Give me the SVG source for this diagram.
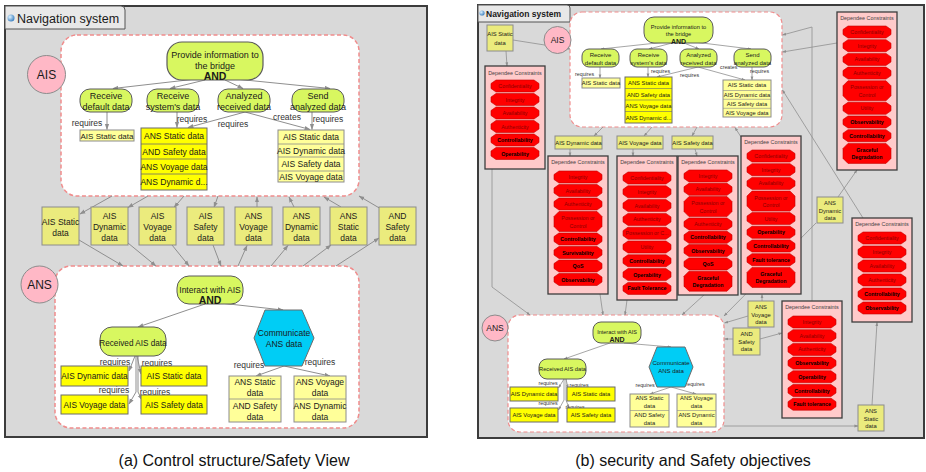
<svg xmlns="http://www.w3.org/2000/svg" width="926" height="472" viewBox="0 0 926 472">
<defs>
<style>
text{font-family:"Liberation Sans",Arial,sans-serif;fill:#1a1a1a}
.c{text-anchor:middle}
.b{font-weight:bold}
.panel{fill:#d9d9d9;stroke:#3c3c3c;stroke-width:2}
.tab{fill:#e8e8e8;stroke:#555;stroke-width:1}
.cont{fill:#fff;stroke:#f08c8c;stroke-width:1.5;stroke-dasharray:4 2.5}
.circ{fill:#ffb8c6;stroke:#8c8c8c}
.goal{fill:#d8f760;stroke:#5a5a5a}
.d1{fill:#ffff99;stroke:#8c8c8c}
.d2{fill:#ffff00;stroke:#6b6b6b}
.d3{fill:#ebeb7d;stroke:#8c8c8c}
.hex{fill:#00cdf5;stroke:#6b6b6b}
.dc{fill:#ffcaca;stroke:#3c3c3c;stroke-width:1.3}
.ln{fill:none;stroke:#8f8f8f;stroke-width:1;marker-end:url(#ah)}
.ls{fill:none;stroke:#8f8f8f;stroke-width:0.8;marker-end:url(#as)}
.f9{font-size:9px}
.f85{font-size:8.5px}
.f6{font-size:6px}
.f58{font-size:5.8px}
.lb{font-size:8.5px;text-anchor:middle;fill:#333}
.ls5{font-size:5.3px;fill:#333}
.dt{font-size:5.4px;fill:#444;text-anchor:middle}
.o{font-size:5.3px;fill:#8a0000;text-anchor:middle}
.ob{font-size:5.3px;font-weight:bold;fill:#000;text-anchor:middle}
.cap{font-size:16px;text-anchor:middle;fill:#111}
</style>
<marker id="ah" viewBox="0 0 10 10" refX="9" refY="5" markerWidth="6" markerHeight="6" orient="auto"><path d="M0,1.5L10,5L0,8.5z" fill="#8f8f8f"/></marker>
<marker id="as" viewBox="0 0 10 10" refX="9" refY="5" markerWidth="5" markerHeight="5" orient="auto"><path d="M0,1.5L10,5L0,8.5z" fill="#8f8f8f"/></marker>
<path id="o" d="M5,0h38l5,3.5v5l-5,3.5h-38l-5,-3.5v-5z" fill="#ff0000" stroke="#c40000" stroke-width="0.6"/>
<path id="O" d="M5,0h38l5,5v10l-5,5h-38l-5,-5v-10z" fill="#ff0000" stroke="#c40000" stroke-width="0.6"/>
<radialGradient id="gl" cx="0.35" cy="0.35" r="0.7"><stop offset="0" stop-color="#dff3ff"/><stop offset="1" stop-color="#3a7fc0"/></radialGradient>
</defs>

<!-- ============ PANEL A ============ -->
<g id="panelA">
<rect class="panel" x="5" y="6" width="422" height="431"/>
<path class="tab" d="M5,6H121a4,4 0 0 1 4,4V29H5Z"/>
<circle cx="11" cy="18" r="3.5" fill="url(#gl)"/>
<text x="17" y="23" style="font-size:12.5px">Navigation system</text>
</g>
<g id="a-AIS-container"><rect class="cont" x="61" y="35" width="298" height="161" rx="16"/></g>
<g id="a-ANS-container"><rect class="cont" x="55" y="266" width="304" height="162" rx="16"/></g>

<g id="a-connectors">
<line class="ln" x1="196" y1="79" x2="113" y2="88.5"/>
<line class="ln" x1="205" y1="80" x2="170" y2="88.5"/>
<line class="ln" x1="225" y1="80" x2="243" y2="88.5"/>
<line class="ln" x1="235" y1="79" x2="330" y2="88.5"/>
<line class="ln" x1="107" y1="112" x2="107" y2="129.5"/>
<line class="ln" x1="177" y1="112" x2="177" y2="127.5"/>
<line class="ln" x1="245" y1="112" x2="188" y2="127.5"/>
<line class="ln" x1="245" y1="112" x2="310" y2="129.5"/>
<line class="ln" x1="312" y1="112" x2="312" y2="129.5"/>
<line class="ln" x1="112" y1="196" x2="80" y2="214"/>
<line class="ln" x1="148" y1="196" x2="128" y2="207.5"/>
<line class="ln" x1="184" y1="196" x2="174" y2="207.5"/>
<line class="ln" x1="218" y1="196" x2="214" y2="207.5"/>
<line class="ln" x1="257" y1="207" x2="257" y2="197"/>
<line class="ln" x1="294" y1="207" x2="289" y2="197"/>
<line class="ln" x1="341" y1="207" x2="324" y2="197"/>
<line class="ln" x1="381" y1="209" x2="359" y2="196"/>
<line class="ln" x1="79" y1="240" x2="123" y2="266"/>
<line class="ln" x1="128" y1="243" x2="156" y2="266"/>
<line class="ln" x1="172" y1="245" x2="189" y2="266"/>
<line class="ln" x1="213" y1="245" x2="221" y2="266"/>
<line class="ln" x1="238" y1="266" x2="247" y2="245.5"/>
<line class="ln" x1="271" y1="266" x2="288" y2="245.5"/>
<line class="ln" x1="303" y1="266" x2="331" y2="245"/>
<line class="ln" x1="336" y1="266" x2="379" y2="238"/>
<line class="ln" x1="205" y1="304" x2="138" y2="327"/>
<line class="ln" x1="220" y1="303" x2="283" y2="310"/>
<line class="ln" x1="135" y1="356" x2="129" y2="371"/>
<line class="ln" x1="137" y1="356" x2="141" y2="374"/>
<polyline class="ln" points="136,356 136,392 129,404"/>
<polyline class="ln" points="138,356 138,392 142,400"/>
<line class="ln" x1="284" y1="366" x2="256" y2="376"/>
<line class="ln" x1="284" y1="366" x2="330" y2="376"/>
</g>

<g id="a-labels">
<text class="lb" x="87" y="126">requires</text>
<text class="lb" x="192" y="122">requires</text>
<text class="lb" x="233" y="127">requires</text>
<text class="lb" x="287" y="120">creates</text>
<text class="lb" x="328" y="122">requires</text>
<text class="lb" x="115" y="365">requires</text>
<text class="lb" x="157" y="366">requires</text>
<text class="lb" x="114" y="393">requires</text>
<text class="lb" x="155" y="395">requires</text>
<text class="lb" x="249" y="368">requires</text>
<text class="lb" x="320" y="365">requires</text>
</g>

<g id="a-AIS"><circle class="circ" cx="46.5" cy="74.5" r="19"/><text class="c" x="46.5" y="79" style="font-size:12px">AIS</text></g>
<g id="a-ANS"><circle class="circ" cx="39.5" cy="284.5" r="18.5"/><text class="c" x="39.5" y="289" style="font-size:12px">ANS</text></g>

<g id="a-goal-provide"><rect class="goal" x="167" y="42" width="96" height="38" rx="15" stroke-width="1.2"/>
<text class="c f9" x="215" y="58">Provide information to</text><text class="c f9" x="215" y="69">the bridge</text><text class="c b" x="215" y="80" style="font-size:10.5px">AND</text></g>
<g id="a-receive-default"><rect class="goal" x="80" y="89" width="52" height="23" rx="10"/><text class="c f9" x="106" y="99">Receive</text><text class="c f9" x="106" y="110">default data</text></g>
<g id="a-receive-system"><rect class="goal" x="147" y="89" width="52" height="23" rx="10"/><text class="c f9" x="173" y="99">Receive</text><text class="c f9" x="173" y="110">system's data</text></g>
<g id="a-analyzed"><rect class="goal" x="218" y="89" width="52" height="23" rx="10"/><text class="c f9" x="244" y="99">Analyzed</text><text class="c f9" x="244" y="110">received data</text></g>
<g id="a-send"><rect class="goal" x="292" y="89" width="52" height="23" rx="10"/><text class="c f9" x="318" y="99">Send</text><text class="c f9" x="318" y="110">analyzed data</text></g>

<g id="a-ais-static-1"><rect class="d1" x="80" y="130" width="54" height="11"/><text class="c" x="107" y="139" style="font-size:8px">AIS Static data</text></g>
<g id="a-ans-stack"><rect class="d2" x="141" y="128" width="66" height="62"/>
<path d="M141,144H207M141,159H207M141,174H207" stroke="#6b6b6b" stroke-width="0.8"/>
<text class="c f85" x="174" y="139">ANS Static data</text><text class="c f85" x="174" y="154.5">AND Safety data</text><text class="c f85" x="174" y="169.5">ANS Voyage data</text><text class="c f85" x="174" y="185">ANS Dynamic d...</text></g>
<g id="a-ais-stack"><rect class="d1" x="278" y="130" width="66" height="52"/>
<path d="M278,144H344M278,157H344M278,171H344" stroke="#8c8c8c" stroke-width="0.8"/>
<text class="c f85" x="311" y="140">AIS Static data</text><text class="c f85" x="311" y="153.5">AIS Dynamic data</text><text class="c f85" x="311" y="167">AIS Safety data</text><text class="c f85" x="311" y="179.5">AIS Voyage data</text></g>

<g id="a-m-ais-static"><rect class="d3" x="42" y="207" width="37" height="38"/><text class="c f85" x="60.5" y="225">AIS Static</text><text class="c f85" x="60.5" y="236">data</text></g>
<g id="a-m-ais-dynamic"><rect class="d3" x="91" y="207" width="37" height="38"/><text class="c f85" x="109.5" y="219">AIS</text><text class="c f85" x="109.5" y="230">Dynamic</text><text class="c f85" x="109.5" y="241">data</text></g>
<g id="a-m-ais-voyage"><rect class="d3" x="139" y="207" width="37" height="38"/><text class="c f85" x="157.5" y="219">AIS</text><text class="c f85" x="157.5" y="230">Voyage</text><text class="c f85" x="157.5" y="241">data</text></g>
<g id="a-m-ais-safety"><rect class="d3" x="187" y="207" width="37" height="38"/><text class="c f85" x="205.5" y="219">AIS</text><text class="c f85" x="205.5" y="230">Safety</text><text class="c f85" x="205.5" y="241">data</text></g>
<g id="a-m-ans-voyage"><rect class="d3" x="235" y="207" width="37" height="38"/><text class="c f85" x="253.5" y="219">ANS</text><text class="c f85" x="253.5" y="230">Voyage</text><text class="c f85" x="253.5" y="241">data</text></g>
<g id="a-m-ans-dynamic"><rect class="d3" x="283" y="207" width="37" height="38"/><text class="c f85" x="301.5" y="219">ANS</text><text class="c f85" x="301.5" y="230">Dynamic</text><text class="c f85" x="301.5" y="241">data</text></g>
<g id="a-m-ans-static"><rect class="d3" x="330" y="207" width="37" height="38"/><text class="c f85" x="348.5" y="219">ANS</text><text class="c f85" x="348.5" y="230">Static</text><text class="c f85" x="348.5" y="241">data</text></g>
<g id="a-m-and-safety"><rect class="d3" x="379" y="207" width="37" height="38"/><text class="c f85" x="397.5" y="219">AND</text><text class="c f85" x="397.5" y="230">Safety</text><text class="c f85" x="397.5" y="241">data</text></g>

<g id="a-goal-interact"><rect class="goal" x="177" y="276" width="66" height="28" rx="12"/><text class="c f85" x="210" y="292.5">Interact with AIS</text><text class="c b" x="210" y="303.5" style="font-size:10.5px">AND</text></g>
<g id="a-received"><rect class="goal" x="100" y="327" width="66" height="29" rx="12"/><text class="c" x="133" y="346" style="font-size:8.2px">Received AIS data</text></g>
<g id="a-communicate"><polygon class="hex" points="254,338 265,310 302,310 314,338 302,366 265,366"/><text class="c f85" x="284" y="336">Communicate</text><text class="c f85" x="284" y="347">ANS data</text></g>
<g id="a-l-ais-dynamic"><rect class="d2" x="61" y="366" width="67" height="20"/><text class="c" x="94.5" y="379" style="font-size:8.3px">AIS Dynamic data</text></g>
<g id="a-l-ais-static"><rect class="d2" x="141" y="366" width="66" height="20"/><text class="c" x="174" y="379" style="font-size:8.3px">AIS Static data</text></g>
<g id="a-l-ais-voyage"><rect class="d2" x="61" y="395" width="67" height="19"/><text class="c" x="94.5" y="407.5" style="font-size:8.3px">AIS Voyage data</text></g>
<g id="a-l-ais-safety"><rect class="d2" x="141" y="395" width="66" height="19"/><text class="c" x="174" y="407.5" style="font-size:8.3px">AIS Safety data</text></g>
<g id="a-l-stack1"><rect class="d1" x="229" y="376" width="52" height="46"/><path d="M229,399H281" stroke="#8c8c8c" stroke-width="0.8"/>
<text class="c f85" x="255" y="385">ANS Static</text><text class="c f85" x="255" y="396">data</text><text class="c f85" x="255" y="409">AND Safety</text><text class="c f85" x="255" y="420">data</text></g>
<g id="a-l-stack2"><rect class="d1" x="294" y="376" width="52" height="46"/><path d="M294,399H346" stroke="#8c8c8c" stroke-width="0.8"/>
<text class="c f85" x="320" y="385">ANS Voyage</text><text class="c f85" x="320" y="396">data</text><text class="c f85" x="320" y="409">ANS Dynamic</text><text class="c f85" x="320" y="420">data</text></g>

<!-- ============ PANEL B ============ -->
<g id="panelB">
<rect class="panel" x="478" y="5" width="446" height="433"/>
<path class="tab" d="M478,5H567a3,3 0 0 1 3,3V22H478Z"/>
<circle cx="482" cy="13" r="2.6" fill="url(#gl)"/>
<text class="b" x="486" y="16.5" style="font-size:8.5px">Navigation system</text>
</g>
<g id="b-AIS-container"><rect class="cont" x="570" y="12" width="212" height="115" rx="12" style="stroke-width:1.2"/></g>
<g id="b-ANS-container"><rect class="cont" x="508" y="315" width="216" height="117" rx="12" style="stroke-width:1.2"/></g>

<g id="b-connectors">
<line class="ls" x1="513" y1="40" x2="570" y2="49"/>
<line class="ls" x1="506" y1="51" x2="507" y2="66"/>
<line class="ls" x1="603" y1="127" x2="594" y2="136"/>
<line class="ls" x1="652" y1="127" x2="644" y2="136"/>
<line class="ls" x1="697" y1="127" x2="692" y2="136"/>
<line class="ls" x1="570" y1="149" x2="570" y2="156"/>
<line class="ls" x1="633" y1="149" x2="633" y2="156"/>
<line class="ls" x1="695" y1="149" x2="697" y2="156"/>
<line class="ls" x1="741" y1="137" x2="735" y2="127.5"/>
<line class="ls" x1="837" y1="43" x2="782.5" y2="52"/>
<polyline class="ls" points="812,301 812,27 782.5,35"/>
<line class="ls" x1="863" y1="218" x2="782.5" y2="90"/>
<line class="ls" x1="838" y1="197" x2="857" y2="170"/>
<line class="ls" x1="816" y1="223" x2="724" y2="316"/>
<line class="ls" x1="762" y1="301" x2="762" y2="294.5"/>
<line class="ls" x1="748" y1="316" x2="724.5" y2="323"/>
<line class="ls" x1="733" y1="339" x2="724.5" y2="339"/>
<line class="ls" x1="760" y1="339" x2="782" y2="333"/>
<line class="ls" x1="872" y1="405" x2="877" y2="322.5"/>
<line class="ls" x1="724" y1="426" x2="858" y2="426"/>
<polyline class="ls" points="492,169 492,287 530,315"/>
<line class="ls" x1="600" y1="294" x2="603" y2="315"/>
<line class="ls" x1="627" y1="300" x2="625" y2="315"/>
<line class="ls" x1="705" y1="294" x2="682" y2="315"/>
<line class="ls" x1="666" y1="42" x2="601" y2="49"/>
<line class="ls" x1="672" y1="43" x2="649" y2="49"/>
<line class="ls" x1="684" y1="43" x2="699" y2="49"/>
<line class="ls" x1="694" y1="42" x2="751" y2="49"/>
<line class="ls" x1="600" y1="67" x2="600" y2="78"/>
<line class="ls" x1="648" y1="67" x2="648" y2="77"/>
<line class="ls" x1="698" y1="67" x2="657" y2="77"/>
<line class="ls" x1="698" y1="67" x2="745" y2="80"/>
<line class="ls" x1="752" y1="67" x2="752" y2="80"/>
<line class="ls" x1="610" y1="343" x2="564" y2="359"/>
<line class="ls" x1="624" y1="343" x2="671" y2="347"/>
<line class="ls" x1="564" y1="379" x2="558.5" y2="388"/>
<line class="ls" x1="566" y1="379" x2="568" y2="388"/>
<polyline class="ls" points="564,379 564,400 558.5,410"/>
<polyline class="ls" points="566,379 566,400 569,408"/>
<line class="ls" x1="671" y1="387" x2="650" y2="394"/>
<line class="ls" x1="671" y1="387" x2="696" y2="394"/>
</g>

<g id="b-labels">
<text class="ls5" x="575" y="76">requires</text>
<text class="ls5" x="651" y="73">requires</text>
<text class="ls5" x="680" y="77">requires</text>
<text class="ls5" x="720" y="69">creates</text>
<text class="ls5" x="750" y="73">requires</text>
<text class="ls5 c" x="548" y="385">requires</text>
<text class="ls5 c" x="579" y="387">requires</text>
<text class="ls5 c" x="548" y="405">requires</text>
<text class="ls5 c" x="575" y="409">requires</text>
<text class="ls5 c" x="645" y="387">requires</text>
<text class="ls5 c" x="695" y="386">requires</text>
</g>

<g id="b-AIS"><circle class="circ" cx="557.5" cy="40" r="13.5"/><text class="c" x="557.5" y="43" style="font-size:8.5px">AIS</text></g>
<g id="b-ANS"><circle class="circ" cx="495" cy="328" r="13"/><text class="c" x="495" y="331" style="font-size:8.5px">ANS</text></g>

<g id="b-goal-provide"><rect class="goal" x="644" y="17" width="69" height="26" rx="10"/>
<text class="c" x="678.5" y="28.5" style="font-size:5.7px">Provide information to</text><text class="c" x="678.5" y="36" style="font-size:5.7px">the bridge</text><text class="c b" x="678.5" y="43.5" style="font-size:7px">AND</text></g>
<g id="b-receive-default"><rect class="goal" x="582" y="49" width="37" height="18" rx="7"/><text class="c f6" x="600.5" y="56.5">Receive</text><text class="c f6" x="600.5" y="64.5">default data</text></g>
<g id="b-receive-system"><rect class="goal" x="630" y="49" width="37" height="18" rx="7"/><text class="c f6" x="648.5" y="56.5">Receive</text><text class="c f6" x="648.5" y="64.5">system's data</text></g>
<g id="b-analyzed"><rect class="goal" x="680" y="49" width="37" height="18" rx="7"/><text class="c f6" x="698.5" y="56.5">Analyzed</text><text class="c f6" x="698.5" y="64.5">received data</text></g>
<g id="b-send"><rect class="goal" x="734" y="49" width="37" height="18" rx="7"/><text class="c f6" x="752.5" y="56.5">Send</text><text class="c f6" x="752.5" y="64.5">analyzed data</text></g>
<g id="b-ais-static-1"><rect class="d1" x="582" y="78" width="38" height="10"/><text class="c f58" x="601" y="85.2">AIS Static data</text></g>
<g id="b-ans-stack"><rect class="d2" x="625" y="77" width="47" height="46"/><path d="M625,88.5H672M625,100H672M625,111.5H672" stroke="#6b6b6b" stroke-width="0.6"/>
<text class="c f58" x="648.5" y="85">ANS Static data</text><text class="c f58" x="648.5" y="96.5">AND Safety data</text><text class="c f58" x="648.5" y="108">ANS Voyage data</text><text class="c f58" x="648.5" y="119.5">ANS Dynamic d...</text></g>
<g id="b-ais-stack"><rect class="d1" x="723" y="80" width="48" height="37"/><path d="M723,90.5H771M723,99.3H771M723,108.3H771" stroke="#8c8c8c" stroke-width="0.6"/>
<text class="c f58" x="747" y="87.2">AIS Static data</text><text class="c f58" x="747" y="97">AIS Dynamic data</text><text class="c f58" x="747" y="105.8">AIS Safety data</text><text class="c f58" x="747" y="114.8">AIS Voyage data</text></g>

<g id="b-ais-static-top"><rect class="d3" x="487" y="25" width="26" height="26"/><text class="c f58" x="500" y="36">AIS Static</text><text class="c f58" x="500" y="45">data</text></g>
<g id="b-ais-dynamic"><rect class="d3" x="555" y="136" width="47" height="13"/><text class="c f58" x="578.5" y="144.8">AIS Dynamic data</text></g>
<g id="b-ais-voyage"><rect class="d3" x="617" y="136" width="46" height="13"/><text class="c f58" x="640" y="144.8">AIS Voyage data</text></g>
<g id="b-ais-safety"><rect class="d3" x="672" y="136" width="41" height="13"/><text class="c f58" x="692.5" y="144.8">AIS Safety data</text></g>
<g id="b-ans-dynamic"><rect class="d3" x="817" y="197" width="26" height="26"/><text class="c f58" x="830" y="205">ANS</text><text class="c f58" x="830" y="212.5">Dynamic</text><text class="c f58" x="830" y="220">data</text></g>
<g id="b-ans-voyage"><rect class="d3" x="748" y="301" width="26" height="26"/><text class="c f58" x="761" y="309">ANS</text><text class="c f58" x="761" y="316.5">Voyage</text><text class="c f58" x="761" y="324">data</text></g>
<g id="b-and-safety"><rect class="d3" x="733" y="328" width="27" height="27"/><text class="c f58" x="746.5" y="336">AND</text><text class="c f58" x="746.5" y="343.5">Safety</text><text class="c f58" x="746.5" y="351">data</text></g>
<g id="b-ans-static"><rect class="d3" x="858" y="405" width="26" height="26"/><text class="c f58" x="871" y="413">ANS</text><text class="c f58" x="871" y="420.5">Static</text><text class="c f58" x="871" y="428">data</text></g>

<g id="b-dc1"><rect class="dc" x="485" y="66" width="60" height="103"/><text class="dt" x="515" y="75">Dependee Constraints</text>
<use href="#o" x="491" y="80"/><text class="o" x="515" y="88">Confidentiality</text>
<use href="#o" x="491" y="93.5"/><text class="o" x="515" y="101.5">Integrity</text>
<use href="#o" x="491" y="107"/><text class="o" x="515" y="115">Availability</text>
<use href="#o" x="491" y="120.5"/><text class="o" x="515" y="128.5">Authenticity</text>
<use href="#o" x="491" y="134"/><text class="ob" x="515" y="142">Controllability</text>
<use href="#o" x="491" y="147.5"/><text class="ob" x="515" y="155.5">Operability</text></g>

<g id="b-dc2"><rect class="dc" x="548" y="156" width="60" height="138"/><text class="dt" x="578" y="164">Dependee Constraints</text>
<use href="#o" x="554" y="171"/><text class="o" x="578" y="179">Integrity</text>
<use href="#o" x="554" y="184.5"/><text class="o" x="578" y="192.5">Availability</text>
<use href="#o" x="554" y="198"/><text class="o" x="578" y="206">Authenticity</text>
<use href="#O" x="554" y="211.5"/><text class="o" x="578" y="220">Possession or</text><text class="o" x="578" y="227.5">Control</text>
<use href="#o" x="554" y="233"/><text class="ob" x="578" y="241">Controllability</text>
<use href="#o" x="554" y="246.5"/><text class="ob" x="578" y="254.5">Survivability</text>
<use href="#o" x="554" y="260"/><text class="ob" x="578" y="268">QoS</text>
<use href="#o" x="554" y="273.5"/><text class="ob" x="578" y="281.5">Observability</text></g>

<g id="b-dc3"><rect class="dc" x="617" y="156" width="60" height="144"/><text class="dt" x="647" y="164">Dependee Constraints</text>
<use href="#o" x="623" y="172"/><text class="o" x="647" y="180">Confidentiality</text>
<use href="#o" x="623" y="185.8"/><text class="o" x="647" y="193.8">Integrity</text>
<use href="#o" x="623" y="199.6"/><text class="o" x="647" y="207.6">Availability</text>
<use href="#o" x="623" y="213.4"/><text class="o" x="647" y="221.4">Authenticity</text>
<use href="#o" x="623" y="227.2"/><text class="o" x="647" y="235.2">Possession or C...</text>
<use href="#o" x="623" y="241"/><text class="o" x="647" y="249">Utility</text>
<use href="#o" x="623" y="254.8"/><text class="ob" x="647" y="262.8">Controllability</text>
<use href="#o" x="623" y="268.6"/><text class="ob" x="647" y="276.6">Operability</text>
<use href="#o" x="623" y="282.4"/><text class="ob" x="647" y="290.4">Fault Tolerance</text></g>

<g id="b-dc4"><rect class="dc" x="678" y="156" width="60" height="139"/><text class="dt" x="708" y="164">Dependee Constraints</text>
<use href="#o" x="684" y="170"/><text class="o" x="708" y="178">Integrity</text>
<use href="#o" x="684" y="183.3"/><text class="o" x="708" y="191.3">Availability</text>
<use href="#O" x="684" y="196.6"/><text class="o" x="708" y="205.1">Possession or</text><text class="o" x="708" y="212.6">Control</text>
<use href="#o" x="684" y="218"/><text class="o" x="708" y="226">Authenticity</text>
<use href="#o" x="684" y="231.3"/><text class="ob" x="708" y="239.3">Controllability</text>
<use href="#o" x="684" y="244.6"/><text class="ob" x="708" y="252.6">Observability</text>
<use href="#o" x="684" y="257.9"/><text class="ob" x="708" y="265.9">QoS</text>
<use href="#O" x="684" y="271.2"/><text class="ob" x="708" y="279.7">Graceful</text><text class="ob" x="708" y="287.2">Degradation</text></g>

<g id="b-dc5"><rect class="dc" x="741" y="136" width="60" height="158"/><text class="dt" x="771" y="144">Dependee Constraints</text>
<use href="#o" x="747" y="150"/><text class="o" x="771" y="158">Confidentiality</text>
<use href="#o" x="747" y="163.7"/><text class="o" x="771" y="171.7">Integrity</text>
<use href="#o" x="747" y="177.4"/><text class="o" x="771" y="185.4">Availability</text>
<use href="#O" x="747" y="191.1"/><text class="o" x="771" y="199.6">Possession or</text><text class="o" x="771" y="207.1">Control</text>
<use href="#o" x="747" y="212.6"/><text class="o" x="771" y="220.6">Utility</text>
<use href="#o" x="747" y="226.3"/><text class="ob" x="771" y="234.3">Operability</text>
<use href="#o" x="747" y="240"/><text class="ob" x="771" y="248">Controllability</text>
<use href="#o" x="747" y="253.7"/><text class="ob" x="771" y="261.7">Fault tolerance</text>
<use href="#O" x="747" y="267.4"/><text class="ob" x="771" y="275.9">Graceful</text><text class="ob" x="771" y="283.4">Degradation</text></g>

<g id="b-dc6"><rect class="dc" x="837" y="12" width="60" height="158"/><text class="dt" x="867" y="20">Dependee Constraints</text>
<use href="#o" x="843" y="26"/><text class="o" x="867" y="34">Confidentiality</text>
<use href="#o" x="843" y="39.7"/><text class="o" x="867" y="47.7">Integrity</text>
<use href="#o" x="843" y="53.4"/><text class="o" x="867" y="61.4">Availability</text>
<use href="#o" x="843" y="67.1"/><text class="o" x="867" y="75.1">Authenticity</text>
<use href="#O" x="843" y="80.8"/><text class="o" x="867" y="89.3">Possession or</text><text class="o" x="867" y="96.8">Control</text>
<use href="#o" x="843" y="102.3"/><text class="o" x="867" y="110.3">Utility</text>
<use href="#o" x="843" y="116"/><text class="ob" x="867" y="124">Observability</text>
<use href="#o" x="843" y="129.7"/><text class="ob" x="867" y="137.7">Controllability</text>
<use href="#O" x="843" y="143.4"/><text class="ob" x="867" y="151.9">Graceful</text><text class="ob" x="867" y="159.4">Degradation</text></g>

<g id="b-dc7"><rect class="dc" x="852" y="218" width="60" height="104"/><text class="dt" x="882" y="226">Dependee Constraints</text>
<use href="#o" x="858" y="232"/><text class="o" x="882" y="240">Confidentiality</text>
<use href="#o" x="858" y="246"/><text class="o" x="882" y="254">Integrity</text>
<use href="#o" x="858" y="260"/><text class="o" x="882" y="268">Availability</text>
<use href="#o" x="858" y="274"/><text class="o" x="882" y="282">Authenticity</text>
<use href="#o" x="858" y="288"/><text class="ob" x="882" y="296">Controllability</text>
<use href="#o" x="858" y="302"/><text class="ob" x="882" y="310">Observability</text></g>

<g id="b-dc8"><rect class="dc" x="782" y="301" width="60" height="117"/><text class="dt" x="812" y="309">Dependee Constraints</text>
<use href="#o" x="788" y="316"/><text class="o" x="812" y="324">Integrity</text>
<use href="#o" x="788" y="329.7"/><text class="o" x="812" y="337.7">Availability</text>
<use href="#o" x="788" y="343.4"/><text class="o" x="812" y="351.4">Authenticity</text>
<use href="#o" x="788" y="357.1"/><text class="ob" x="812" y="365.1">Observability</text>
<use href="#o" x="788" y="370.8"/><text class="ob" x="812" y="378.8">Operability</text>
<use href="#o" x="788" y="384.5"/><text class="ob" x="812" y="392.5">Controllability</text>
<use href="#o" x="788" y="398.2"/><text class="ob" x="812" y="406.2">Fault tolerance</text></g>

<g id="b-goal-interact"><rect class="goal" x="593" y="322" width="48" height="21" rx="8"/><text class="c" x="617" y="334" style="font-size:5.5px">Interact with AIS</text><text class="c b" x="617" y="342" style="font-size:7px">AND</text></g>
<g id="b-received"><rect class="goal" x="539" y="359" width="47" height="20" rx="8"/><text class="c" x="562.5" y="371" style="font-size:5.7px">Received AIS data</text></g>
<g id="b-communicate"><polygon class="hex" points="649,367 657,347 685,347 693,367 685,387 657,387"/><text class="c f6" x="671" y="365">Communicate</text><text class="c f6" x="671" y="373">ANS data</text></g>
<g id="b-l-ais-dynamic"><rect class="d2" x="510" y="387" width="48" height="14"/><text class="c f58" x="534" y="396">AIS Dynamic data</text></g>
<g id="b-l-ais-static"><rect class="d2" x="567" y="387" width="48" height="14"/><text class="c f58" x="591" y="396">AIS Static data</text></g>
<g id="b-l-ais-voyage"><rect class="d2" x="510" y="408" width="48" height="14"/><text class="c f58" x="534" y="417">AIS Voyage data</text></g>
<g id="b-l-ais-safety"><rect class="d2" x="567" y="408" width="48" height="14"/><text class="c f58" x="591" y="417">AIS Safety data</text></g>
<g id="b-l-stack1"><rect class="d1" x="630" y="394" width="39" height="33"/><path d="M630,410.5H669" stroke="#8c8c8c" stroke-width="0.6"/>
<text class="c f58" x="649.5" y="400">ANS Static</text><text class="c f58" x="649.5" y="408">data</text><text class="c f58" x="649.5" y="416.5">AND Safety</text><text class="c f58" x="649.5" y="424.5">data</text></g>
<g id="b-l-stack2"><rect class="d1" x="677" y="394" width="39" height="33"/><path d="M677,410.5H716" stroke="#8c8c8c" stroke-width="0.6"/>
<text class="c f58" x="696.5" y="400">ANS Voyage</text><text class="c f58" x="696.5" y="408">data</text><text class="c f58" x="696.5" y="416.5">ANS Dynamic</text><text class="c f58" x="696.5" y="424.5">data</text></g>

<g id="captions">
<text class="cap" x="234" y="466">(a) Control structure/Safety View</text>
<text class="cap" x="693" y="466">(b) security and Safety objectives</text>
</g>
</svg>
